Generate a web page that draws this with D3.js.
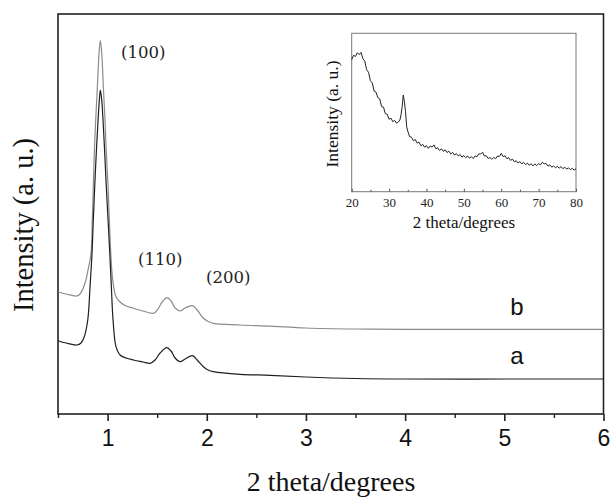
<!DOCTYPE html>
<html>
<head>
<meta charset="utf-8">
<script src="https://cdn.jsdelivr.net/npm/d3@7"></script>
<style>
  html, body { margin: 0; padding: 0; background: #fff; }
  svg { display: block; }
</style>
</head>
<body>
<svg id="chart" width="611" height="497"></svg>
<script>
// ---------- Main chart data (2 theta in degrees, intensity in arbitrary units) ----------
const mainTicks = [1, 2, 3, 4, 5, 6];
const mainMinorTicks = [0.5, 1.5, 2.5, 3.5, 4.5, 5.5];

const bX = [0.5,0.581,0.689,0.722,0.772,0.806,0.833,0.846,0.856,0.866,0.880,0.897,0.914,0.927,0.941,0.957,0.974,0.987,1.005,1.018,1.032,1.052,1.085,1.126,1.176,1.260,1.358,1.462,1.509,1.549,1.600,1.640,1.681,1.731,1.782,1.855,1.903,1.966,2.014,2.067,2.337,2.639,3.0,3.5,4.0,5.0,6.0];
const bY = [122.3,120,118,120,130.7,145.7,160.7,194,227.3,261,294,327.3,361,373.3,361,327.3,294,261,227.3,194,161,134,117.3,112,108.5,105.7,103,100.7,105,112,116.3,113,106,103,106,108.3,104,95.7,92.5,90.7,89,87.8,86,85,84.7,84.7,84.7];

const aX = [0.5,0.581,0.689,0.732,0.765,0.800,0.823,0.843,0.856,0.870,0.886,0.904,0.917,0.927,0.939,0.954,0.971,0.987,1.005,1.022,1.038,1.055,1.085,1.126,1.186,1.260,1.358,1.428,1.479,1.529,1.597,1.640,1.681,1.731,1.782,1.855,1.903,1.966,2.014,2.067,2.337,2.639,3.0,3.5,4.0,5.0,6.0];
const aY = [73.3,71,69,71,77.3,94,127.3,161,194,227.3,261,294,314,324,316,294,261,227.3,194,161,127.3,94,67.3,59,56,54,52,50.7,54,61,66.3,63,56,52.3,55,58.3,54,47.3,44,42.3,39.7,38.7,37,35.5,35,35,35];

const peakLabels = ["(100)", "(110)", "(200)"];
const seriesLabels = ["b", "a"];

// ---------- Inset data ----------
const insetTicks = [20, 30, 40, 50, 60, 70, 80];
const insetMinorTicks = [25, 35, 45, 55, 65, 75];
const insetX = [20,20.5,21,21.5,22,22.5,23,23.5,24,24.5,25,25.5,26,26.5,27,27.5,28,28.5,29,29.5,30,30.5,31,31.5,32,32.5,32.9,33.2,33.5,33.8,34.1,34.4,34.7,35,35.5,36,36.5,37,37.5,38,38.5,39,39.5,40,40.5,41,41.5,42,42.5,43,43.5,44,44.5,45,45.5,46,46.5,47,47.5,48,48.5,49,49.5,50,50.5,51,51.5,52,52.5,53,53.5,54,54.5,55,55.5,56,56.5,57,57.5,58,58.5,59,59.5,60,60.5,61,61.5,62,62.5,63,63.5,64,64.5,65,65.5,66,66.5,67,67.5,68,68.5,69,69.5,70,70.5,71,71.5,72,72.5,73,73.5,74,74.5,75,75.5,76,76.5,77,77.5,78,78.5,79,79.5,80];
const insetY = [132,136.5,135.2,139,137,139.3,133,130.5,122,119.4,111,108.8,100.5,99.6,94,92.8,85.2,84.6,78,77.5,72.4,73.6,70,71.3,68.5,69.8,71.7,77,85,96.7,90,80,65,60.5,55,54.5,51,52.2,48.6,49.6,46,47.3,44.5,46,43.3,45.8,44.5,46.8,43,43.9,41.2,42.9,40.3,41.9,39.2,40.5,37.7,39.3,36.6,38.1,35.8,37.2,34.6,36.1,34,35.7,33.5,35.1,33.1,35.8,35,37.8,37.6,39.5,35.6,36,33.2,34.2,32.4,34.3,33,35.6,35.2,38.3,35.1,35.9,33,34,31.3,32.6,29.9,31,28.8,30.1,27.8,29.3,27.1,28.6,26.4,27.9,25.8,27.8,26.1,28.1,26.9,29.4,27.9,28.2,25.5,26.9,24.5,25.8,23.9,25.4,23.5,25.1,23,24.5,22.5,23.9,22,23.4,21.6,22.9];

// ---------- Layout ----------
const svg = d3.select("#chart");
const M = { left: 58, right: 603.5, top: 14, bottom: 414 };

const x = d3.scaleLinear().domain([0.5, 6]).range([M.left, M.right]);
const y = d3.scaleLinear().domain([0, 400]).range([M.bottom, M.top]);

// Frame
svg.append("rect")
  .attr("x", M.left).attr("y", M.top)
  .attr("width", M.right - M.left).attr("height", M.bottom - M.top)
  .attr("fill", "none").attr("stroke", "#222").attr("stroke-width", 1.6);

// Bottom axis (major)
const xAxis = d3.axisBottom(x).tickValues(mainTicks).tickSize(7).tickFormat(d3.format("d"));
const gx = svg.append("g").attr("transform", `translate(0,${M.bottom})`).call(xAxis);
gx.select(".domain").remove();
gx.selectAll(".tick line").attr("stroke", "#222").attr("stroke-width", 1.6);
gx.selectAll(".tick text")
  .attr("y", 32).attr("dy", 0)
  .attr("fill", "#111")
  .style("font-family", "'Liberation Sans', Arial, sans-serif")
  .style("font-size", "23px");

// Minor ticks
const xMinor = d3.axisBottom(x).tickValues(mainMinorTicks).tickSize(4).tickFormat("");
const gxm = svg.append("g").attr("transform", `translate(0,${M.bottom})`).call(xMinor);
gxm.select(".domain").remove();
gxm.selectAll(".tick line").attr("stroke", "#222").attr("stroke-width", 1.4);

// Curves
const line = d3.line().x(d => x(d[0])).y(d => y(d[1])).curve(d3.curveCatmullRom.alpha(0.5));
svg.append("path").datum(bX.map((v, i) => [v, bY[i]]))
  .attr("d", line).attr("fill", "none").attr("stroke", "#8c8c8c").attr("stroke-width", 1.2);
svg.append("path").datum(aX.map((v, i) => [v, aY[i]]))
  .attr("d", line).attr("fill", "none").attr("stroke", "#1e1e1e").attr("stroke-width", 1.2);

// Axis titles
svg.append("text")
  .attr("x", 331).attr("y", 491).attr("text-anchor", "middle")
  .style("font-family", "'Liberation Serif', 'Times New Roman', serif")
  .style("font-size", "28px").attr("fill", "#111")
  .text("2 theta/degrees");
svg.append("text")
  .attr("transform", "translate(33,225) rotate(-90)")
  .attr("text-anchor", "middle")
  .style("font-family", "'Liberation Serif', 'Times New Roman', serif")
  .style("font-size", "28.5px").attr("fill", "#111")
  .text("Intensity (a. u.)");

// Peak labels
const peakPos = [[121, 58], [138, 265], [206, 283]];
peakLabels.forEach((t, i) => {
  svg.append("text")
    .attr("x", peakPos[i][0]).attr("y", peakPos[i][1])
    .style("font-family", "'DejaVu Serif', serif")
    .style("font-size", "16.5px").attr("fill", "#222")
    .text(t);
});

// Series labels
const seriesPos = [[517, 315], [517, 363.5]];
seriesLabels.forEach((t, i) => {
  svg.append("text")
    .attr("x", seriesPos[i][0]).attr("y", seriesPos[i][1]).attr("text-anchor", "middle")
    .style("font-family", "'Liberation Sans', Arial, sans-serif")
    .style("font-size", "24px").attr("fill", "#111")
    .text(t);
});

// ---------- Inset ----------
const I = { left: 351.7, right: 576, top: 33.3, bottom: 191.7 };
const ix = d3.scaleLinear().domain([20, 80]).range([I.left, I.right]);
const iy = d3.scaleLinear().domain([0, 158.4]).range([I.bottom, I.top]);

svg.append("rect")
  .attr("x", I.left).attr("y", I.top)
  .attr("width", I.right - I.left).attr("height", I.bottom - I.top)
  .attr("fill", "none").attr("stroke", "#777").attr("stroke-width", 1);

const ixAxis = d3.axisBottom(ix).tickValues(insetTicks).tickSize(-3).tickFormat(d3.format("d"));
const gix = svg.append("g").attr("transform", `translate(0,${I.bottom})`).call(ixAxis);
gix.select(".domain").remove();
gix.selectAll(".tick line").attr("stroke", "#555");
gix.selectAll(".tick text")
  .attr("y", 15.5).attr("dy", 0).attr("fill", "#222")
  .style("font-family", "'Liberation Serif', 'Times New Roman', serif")
  .style("font-size", "13px");
const ixMinor = d3.axisBottom(ix).tickValues(insetMinorTicks).tickSize(-2).tickFormat("");
const gixm = svg.append("g").attr("transform", `translate(0,${I.bottom})`).call(ixMinor);
gixm.select(".domain").remove();
gixm.selectAll(".tick line").attr("stroke", "#555");

const iline = d3.line().x(d => ix(d[0])).y(d => iy(d[1]));
svg.append("path").datum(insetX.map((v, i) => [v, insetY[i]]))
  .attr("d", iline).attr("fill", "none").attr("stroke", "#222").attr("stroke-width", 1);

svg.append("text")
  .attr("x", 464).attr("y", 227.5).attr("text-anchor", "middle")
  .style("font-family", "'Liberation Serif', 'Times New Roman', serif")
  .style("font-size", "17px").attr("fill", "#111")
  .text("2 theta/degrees");
svg.append("text")
  .attr("transform", "translate(337.5,114) rotate(-90)")
  .attr("text-anchor", "middle")
  .style("font-family", "'Liberation Serif', 'Times New Roman', serif")
  .style("font-size", "17.5px").attr("fill", "#111")
  .text("Intensity (a. u.)");
</script>
</body>
</html>
